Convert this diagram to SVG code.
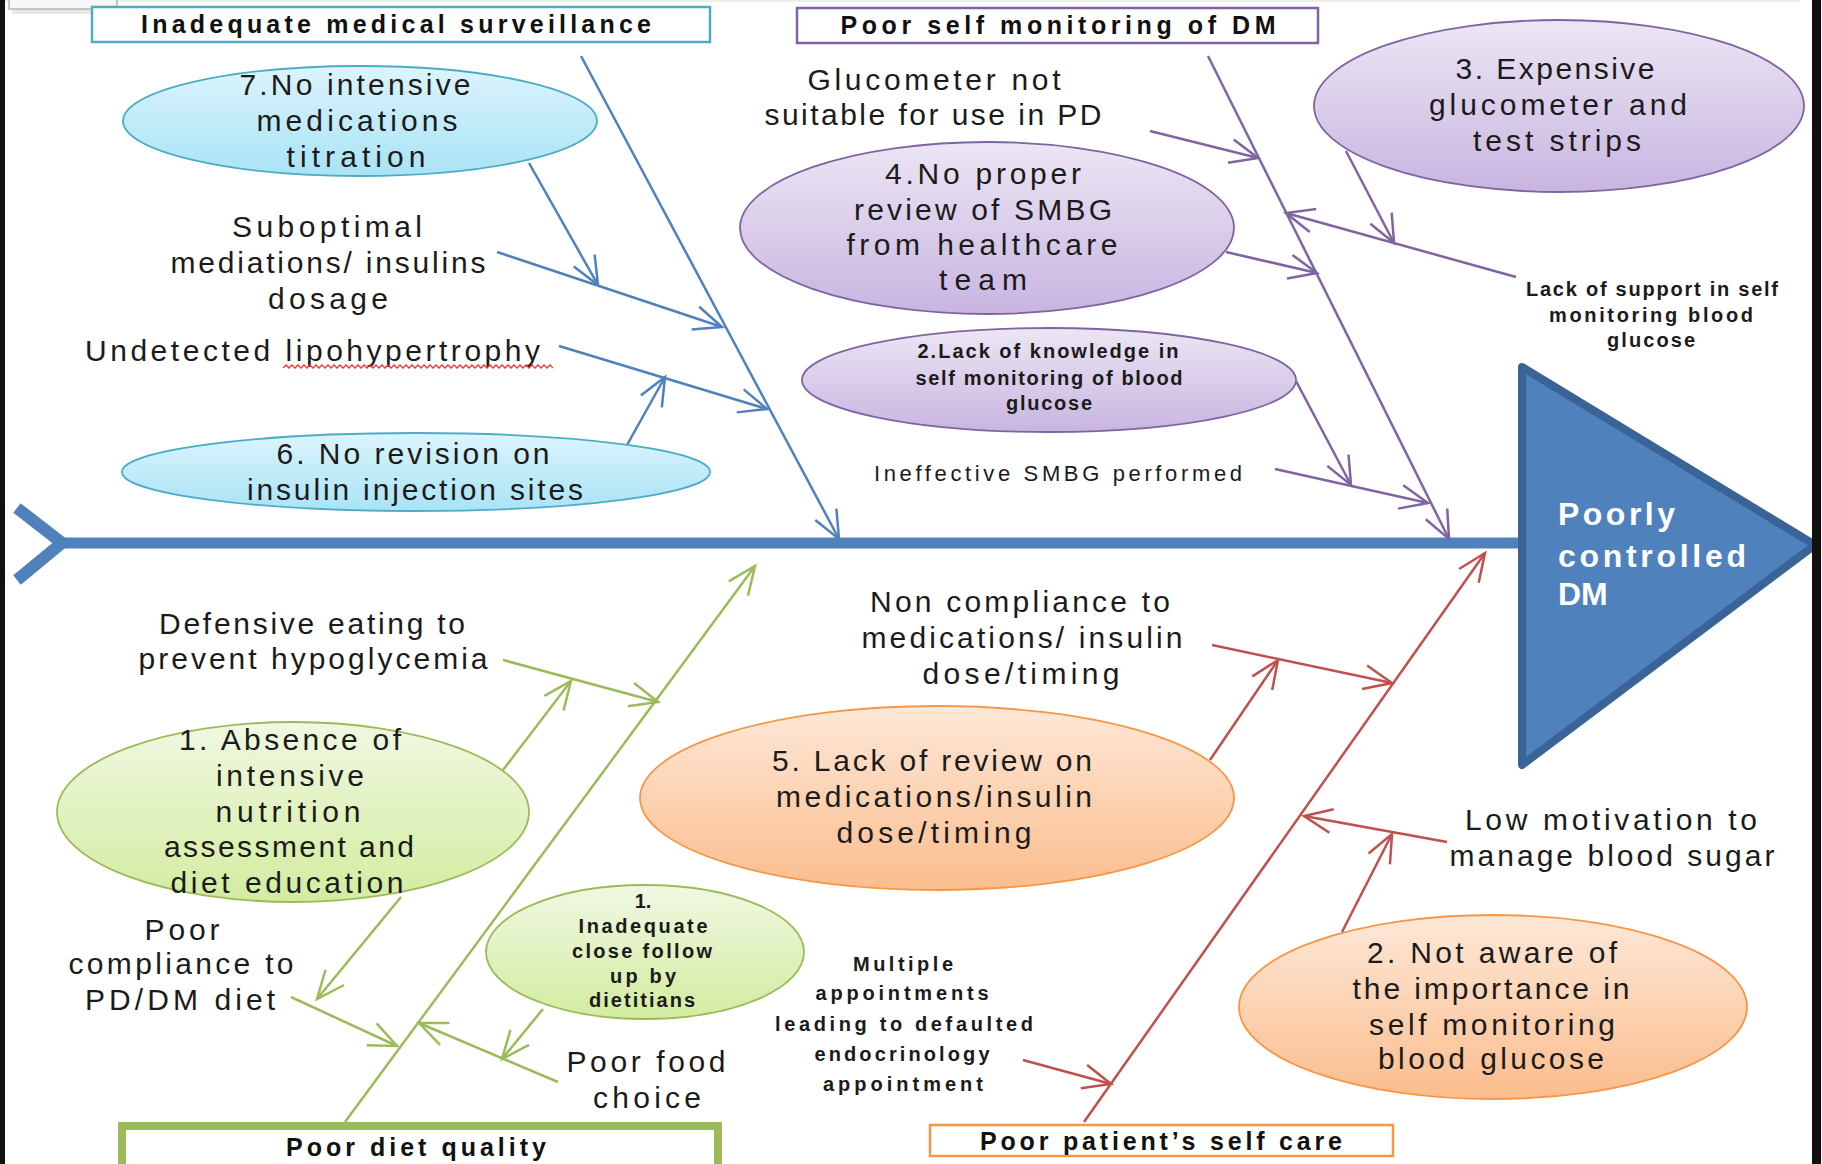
<svg xmlns="http://www.w3.org/2000/svg" width="1822" height="1164" viewBox="0 0 1822 1164">
<style>
.t{font-family:"Liberation Sans",Arial,sans-serif;font-size:30px;fill:#1b1b1b;text-anchor:middle}
.s{font-family:"Liberation Sans",Arial,sans-serif;font-size:20px;font-weight:bold;fill:#1b1b1b;text-anchor:middle}
.h{font-family:"Liberation Sans",Arial,sans-serif;font-size:25px;font-weight:bold;fill:#111;text-anchor:middle}
.w{font-family:"Liberation Sans",Arial,sans-serif;font-size:32px;font-weight:bold;fill:#fff}
.cb{stroke:#4f81bd;stroke-width:2.5;fill:none;marker-end:url(#aB)}
.cp{stroke:#8064a2;stroke-width:2.5;fill:none;marker-end:url(#aP)}
.cg{stroke:#9bbb59;stroke-width:2.5;fill:none;marker-end:url(#aG)}
.cr{stroke:#c0504d;stroke-width:2.5;fill:none;marker-end:url(#aR)}
.ec{fill:url(#gC);stroke:#4bacc6;stroke-width:1.8}
.ep{fill:url(#gP);stroke:#8064a2;stroke-width:1.8}
.eg{fill:url(#gG);stroke:#9bbb59;stroke-width:1.8}
.eo{fill:url(#gO);stroke:#f79646;stroke-width:1.8}
</style>
<defs>
<linearGradient id="gC" x1="0" y1="0" x2="0" y2="1"><stop offset="0" stop-color="#dcf4fc"/><stop offset="1" stop-color="#a9e3f6"/></linearGradient>
<linearGradient id="gP" x1="0" y1="0" x2="0" y2="1"><stop offset="0" stop-color="#ece6f4"/><stop offset="1" stop-color="#c8b5e0"/></linearGradient>
<linearGradient id="gG" x1="0" y1="0" x2="0" y2="1"><stop offset="0" stop-color="#f0f8e2"/><stop offset="1" stop-color="#d3ec9f"/></linearGradient>
<linearGradient id="gO" x1="0" y1="0" x2="0" y2="1"><stop offset="0" stop-color="#fee8d8"/><stop offset="1" stop-color="#fbbd8d"/></linearGradient>
<marker id="aB" viewBox="-32 -16 36 32" refX="0" refY="0" markerWidth="36" markerHeight="32" orient="auto" markerUnits="userSpaceOnUse"><path d="M-28,-12 L0,0 L-28,12" fill="none" stroke="#4f81bd" stroke-width="2.5"/></marker>
<marker id="aP" viewBox="-32 -16 36 32" refX="0" refY="0" markerWidth="36" markerHeight="32" orient="auto" markerUnits="userSpaceOnUse"><path d="M-28,-12 L0,0 L-28,12" fill="none" stroke="#8064a2" stroke-width="2.5"/></marker>
<marker id="aG" viewBox="-32 -16 36 32" refX="0" refY="0" markerWidth="36" markerHeight="32" orient="auto" markerUnits="userSpaceOnUse"><path d="M-28,-12 L0,0 L-28,12" fill="none" stroke="#9bbb59" stroke-width="2.5"/></marker>
<marker id="aR" viewBox="-32 -16 36 32" refX="0" refY="0" markerWidth="36" markerHeight="32" orient="auto" markerUnits="userSpaceOnUse"><path d="M-28,-12 L0,0 L-28,12" fill="none" stroke="#c0504d" stroke-width="2.5"/></marker>
</defs>
<rect x="0" y="0" width="1822" height="1164" fill="#fff"/>
<rect x="0" y="0" width="1800" height="2" fill="#eeeeea"/>
<rect x="12" y="6" width="108" height="8" fill="#d8d8d8" opacity="0.6"/>
<rect x="9" y="-4" width="108" height="13" fill="#f6f6f6" stroke="#b5b5b5" stroke-width="1.5"/>

<g id="spine">
<line x1="58" y1="543" x2="1522" y2="543" stroke="#4f81bd" stroke-width="11"/>
<polyline points="17,508 62,543 17,580" fill="none" stroke="#4f81bd" stroke-width="12"/>
</g>

<g id="connectors">
<line class="cb" x1="581" y1="56" x2="839" y2="539"/>
<line class="cb" x1="529" y1="163" x2="598" y2="285"/>
<line class="cb" x1="497" y1="252" x2="722" y2="327"/>
<line class="cb" x1="559" y1="346" x2="767" y2="409"/>
<line class="cb" x1="627" y1="445" x2="665" y2="377"/>
<line class="cp" x1="1208" y1="56" x2="1449" y2="539"/>
<line class="cp" x1="1150" y1="131" x2="1258" y2="158"/>
<line class="cp" x1="1346" y1="151" x2="1394" y2="243"/>
<line class="cp" x1="1516" y1="277" x2="1286" y2="213"/>
<line class="cp" x1="1226" y1="252" x2="1317" y2="273"/>
<line class="cp" x1="1296" y1="381" x2="1351" y2="485"/>
<line class="cp" x1="1275" y1="469" x2="1428" y2="503"/>
<line class="cg" x1="345" y1="1122" x2="755" y2="566"/>
<line class="cg" x1="503" y1="660" x2="658" y2="702"/>
<line class="cg" x1="503" y1="770" x2="571" y2="681"/>
<line class="cg" x1="401" y1="897" x2="317" y2="999"/>
<line class="cg" x1="291" y1="997" x2="397" y2="1046"/>
<line class="cg" x1="543" y1="1009" x2="502" y2="1059"/>
<line class="cg" x1="558" y1="1082" x2="419" y2="1023"/>
<line class="cr" x1="1084" y1="1122" x2="1485" y2="553"/>
<line class="cr" x1="1212" y1="645" x2="1392" y2="683"/>
<line class="cr" x1="1210" y1="760" x2="1278" y2="660"/>
<line class="cr" x1="1447" y1="842" x2="1304" y2="816"/>
<line class="cr" x1="1342" y1="932" x2="1392" y2="834"/>
<line class="cr" x1="1023" y1="1060" x2="1111" y2="1084"/>
</g>

<g id="head">
<polygon points="1522,367 1815,545 1522,765" fill="#4f81bd" stroke="#3b6496" stroke-width="8" stroke-linejoin="round"/>
<text class="w" x="1558" y="525" textLength="117" lengthAdjust="spacing">Poorly</text>
<text class="w" x="1558" y="567" textLength="188" lengthAdjust="spacing">controlled</text>
<text class="w" x="1558" y="605">DM</text>
</g>

<g id="cat-medical">
<rect x="92" y="7" width="618" height="35" fill="#fff" stroke="#4bacc6" stroke-width="2.5"/>
<text class="h" x="396" y="33" textLength="510" lengthAdjust="spacing">Inadequate  medical surveillance</text>
</g>
<g id="cat-selfmon">
<rect x="797" y="8" width="521" height="35" fill="#fff" stroke="#8064a2" stroke-width="2.5"/>
<text class="h" x="1058" y="34" textLength="435" lengthAdjust="spacing">Poor  self monitoring  of DM</text>
</g>
<g id="cat-diet">
<rect x="122" y="1126" width="596" height="44" fill="#fff" stroke="#9bbb59" stroke-width="8"/>
<text class="h" x="416" y="1156" textLength="260" lengthAdjust="spacing">Poor  diet quality</text>
</g>
<g id="cat-selfcare">
<rect x="930" y="1125" width="463" height="31" fill="#fff" stroke="#f79646" stroke-width="2.5"/>
<text class="h" x="1161" y="1150" textLength="362" lengthAdjust="spacing">Poor  patient’s self care</text>
</g>

<g id="n7">
<ellipse class="ec" cx="360" cy="121" rx="237" ry="55"/>
<text class="t" x="355" y="95" textLength="231" lengthAdjust="spacing">7.No intensive</text>
<text class="t" x="357" y="131" textLength="201" lengthAdjust="spacing">medications</text>
<text class="t" x="356" y="167" textLength="139" lengthAdjust="spacing">titration</text>
</g>
<g id="suboptimal">
<text class="t" x="327" y="237" textLength="190" lengthAdjust="spacing">Suboptimal</text>
<text class="t" x="328" y="273" textLength="315" lengthAdjust="spacing">mediations/ insulins</text>
<text class="t" x="328" y="309" textLength="120" lengthAdjust="spacing">dosage</text>
</g>
<g id="lipo">
<text class="t" x="85" y="361" style="text-anchor:start" textLength="455" lengthAdjust="spacing">Undetected lipohypertrophy</text>
<path d="M283,368 l3,-3 l3,3 l3,-3 l3,3 l3,-3 l3,3 l3,-3 l3,3 l3,-3 l3,3 l3,-3 l3,3 l3,-3 l3,3 l3,-3 l3,3 l3,-3 l3,3 l3,-3 l3,3 l3,-3 l3,3 l3,-3 l3,3 l3,-3 l3,3 l3,-3 l3,3 l3,-3 l3,3 l3,-3 l3,3 l3,-3 l3,3 l3,-3 l3,3 l3,-3 l3,3 l3,-3 l3,3 l3,-3 l3,3 l3,-3 l3,3 l3,-3 l3,3 l3,-3 l3,3 l3,-3 l3,3 l3,-3 l3,3 l3,-3 l3,3 l3,-3 l3,3 l3,-3 l3,3 l3,-3 l3,3 l3,-3 l3,3 l3,-3 l3,3 l3,-3 l3,3 l3,-3 l3,3 l3,-3 l3,3 l3,-3 l3,3 l3,-3 l3,3 l3,-3 l3,3 l3,-3 l3,3 l3,-3 l3,3 l3,-3 l3,3 l3,-3 l3,3 l3,-3 l3,3 l3,-3 l3,3 l3,-3 l3,3" fill="none" stroke="#e53935" stroke-width="1.3"/>
</g>
<g id="n6">
<ellipse class="ec" cx="416" cy="472" rx="294" ry="39"/>
<text class="t" x="413" y="464" textLength="273" lengthAdjust="spacing">6. No revision on</text>
<text class="t" x="415" y="500" textLength="336" lengthAdjust="spacing">insulin injection sites</text>
</g>

<g id="glucometer">
<text class="t" x="934" y="90" textLength="253" lengthAdjust="spacing">Glucometer not</text>
<text class="t" x="933" y="125" textLength="337" lengthAdjust="spacing">suitable for use in PD</text>
</g>
<g id="n3">
<ellipse class="ep" cx="1559" cy="106" rx="245" ry="86"/>
<text class="t" x="1555" y="79" textLength="199" lengthAdjust="spacing">3. Expensive</text>
<text class="t" x="1558" y="115" textLength="258" lengthAdjust="spacing">glucometer and</text>
<text class="t" x="1557" y="151" textLength="168" lengthAdjust="spacing">test strips</text>
</g>
<g id="n4">
<ellipse class="ep" cx="987" cy="228" rx="247" ry="86"/>
<text class="t" x="983" y="184" textLength="196" lengthAdjust="spacing">4.No proper</text>
<text class="t" x="983" y="220" textLength="258" lengthAdjust="spacing">review of SMBG</text>
<text class="t" x="982" y="255" textLength="271" lengthAdjust="spacing">from healthcare</text>
<text class="t" x="983" y="290" textLength="88" lengthAdjust="spacing">team</text>
</g>
<g id="lacksupport">
<text class="s" x="1652" y="296" textLength="252" lengthAdjust="spacing">Lack of support in self</text>
<text class="s" x="1651" y="322" textLength="204" lengthAdjust="spacing">monitoring blood</text>
<text class="s" x="1651" y="347" textLength="88" lengthAdjust="spacing">glucose</text>
</g>
<g id="n2p">
<ellipse class="ep" cx="1049" cy="380" rx="247" ry="52"/>
<text class="s" x="1048" y="358" textLength="261" lengthAdjust="spacing">2.Lack of knowledge in</text>
<text class="s" x="1049" y="385" textLength="267" lengthAdjust="spacing">self monitoring of blood</text>
<text class="s" x="1049" y="410" textLength="86" lengthAdjust="spacing">glucose</text>
</g>
<g id="ineffective">
<text class="t" x="1058" y="481" style="font-size:22px" textLength="368" lengthAdjust="spacing">Ineffective  SMBG performed</text>
</g>

<g id="defensive">
<text class="t" x="312" y="634" textLength="306" lengthAdjust="spacing">Defensive eating to</text>
<text class="t" x="313" y="669" textLength="349" lengthAdjust="spacing">prevent hypoglycemia</text>
</g>
<g id="n1g">
<ellipse class="eg" cx="293" cy="812" rx="236" ry="90"/>
<text class="t" x="290" y="750" textLength="222" lengthAdjust="spacing">1. Absence of</text>
<text class="t" x="290" y="786" textLength="148" lengthAdjust="spacing">intensive</text>
<text class="t" x="288" y="822" textLength="145" lengthAdjust="spacing">nutrition</text>
<text class="t" x="289" y="857" textLength="250" lengthAdjust="spacing">assessment and</text>
<text class="t" x="287" y="893" textLength="233" lengthAdjust="spacing">diet education</text>
</g>
<g id="poorcompliance">
<text class="t" x="182" y="940" textLength="75" lengthAdjust="spacing">Poor</text>
<text class="t" x="181" y="974" textLength="225" lengthAdjust="spacing">compliance to</text>
<text class="t" x="180" y="1010" textLength="190" lengthAdjust="spacing">PD/DM diet</text>
</g>
<g id="n1s">
<ellipse class="eg" cx="645" cy="952" rx="159" ry="67"/>
<text class="s" x="643" y="908">1.</text>
<text class="s" x="643" y="933" textLength="129" lengthAdjust="spacing">Inadequate</text>
<text class="s" x="642" y="958" textLength="140" lengthAdjust="spacing">close follow</text>
<text class="s" x="643" y="983" textLength="66" lengthAdjust="spacing">up by</text>
<text class="s" x="642" y="1007" textLength="106" lengthAdjust="spacing">dietitians</text>
</g>
<g id="poorfood">
<text class="t" x="646" y="1072" textLength="159" lengthAdjust="spacing">Poor food</text>
<text class="t" x="647" y="1108" textLength="108" lengthAdjust="spacing">choice</text>
</g>

<g id="noncompliance">
<text class="t" x="1020" y="612" textLength="300" lengthAdjust="spacing">Non compliance to</text>
<text class="t" x="1022" y="648" textLength="321" lengthAdjust="spacing">medications/ insulin</text>
<text class="t" x="1021" y="684" textLength="197" lengthAdjust="spacing">dose/timing</text>
</g>
<g id="n5">
<ellipse class="eo" cx="937" cy="798" rx="297" ry="92"/>
<text class="t" x="932" y="771" textLength="320" lengthAdjust="spacing">5. Lack of review on</text>
<text class="t" x="934" y="807" textLength="316" lengthAdjust="spacing">medications/insulin</text>
<text class="t" x="934" y="843" textLength="195" lengthAdjust="spacing">dose/timing</text>
</g>
<g id="lowmotivation">
<text class="t" x="1611" y="830" textLength="292" lengthAdjust="spacing">Low motivation to</text>
<text class="t" x="1612" y="866" textLength="325" lengthAdjust="spacing">manage blood sugar</text>
</g>
<g id="n2o">
<ellipse class="eo" cx="1493" cy="1007" rx="254" ry="92"/>
<text class="t" x="1492" y="963" textLength="250" lengthAdjust="spacing">2. Not aware of</text>
<text class="t" x="1491" y="999" textLength="277" lengthAdjust="spacing">the importance in</text>
<text class="t" x="1492" y="1035" textLength="246" lengthAdjust="spacing">self monitoring</text>
<text class="t" x="1491" y="1069" textLength="226" lengthAdjust="spacing">blood glucose</text>
</g>
<g id="multiple">
<text class="s" x="903" y="971" textLength="100" lengthAdjust="spacing">Multiple</text>
<text class="s" x="902" y="1000" textLength="173" lengthAdjust="spacing">appointments</text>
<text class="s" x="904" y="1031" textLength="258" lengthAdjust="spacing">leading  to defaulted</text>
<text class="s" x="902" y="1061" textLength="175" lengthAdjust="spacing">endocrinology</text>
<text class="s" x="903" y="1091" textLength="160" lengthAdjust="spacing">appointment</text>
</g>

<rect x="0" y="0" width="5" height="1164" fill="#111"/>
<rect x="1812" y="0" width="9" height="1164" fill="#111"/>
</svg>
